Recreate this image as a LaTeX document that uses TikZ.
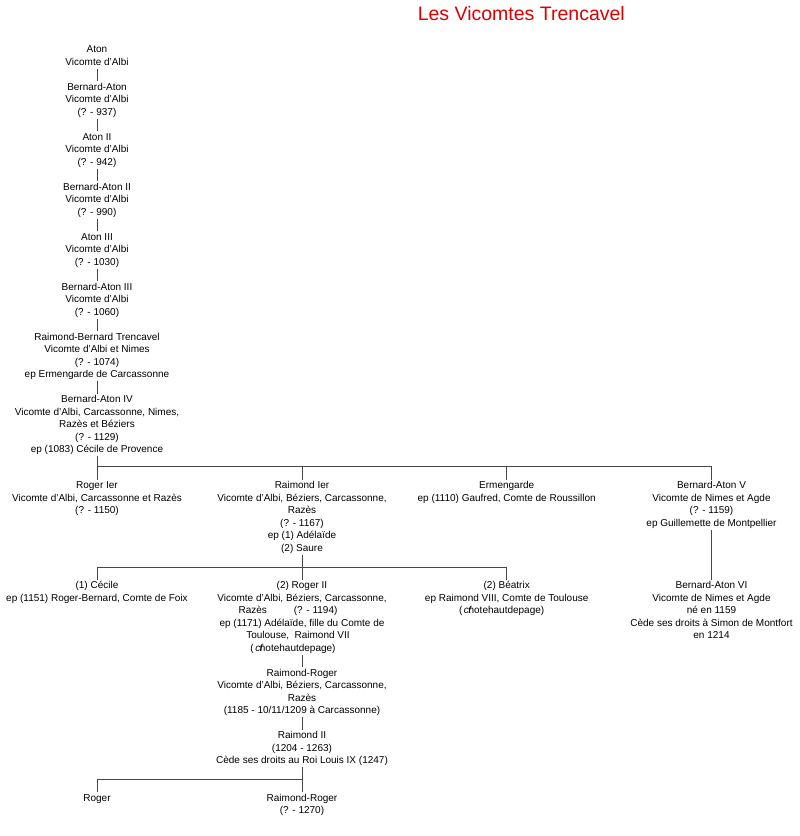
\documentclass[tikz,border=0pt]{standalone}
\usepackage{fontspec}
\setmainfont{Liberation Sans}
\definecolor{titlered}{RGB}{222,0,0}
\definecolor{linegray}{RGB}{70,70,70}
\newcommand{\ppl}[1]{\begin{tabular}[t]{@{}c@{}}#1\end{tabular}}
\newcommand{\cfnote}{(\hspace{1.5pt}\textit{c}\hspace{-0.5pt}\textit{f}\hspace{-3.5pt}notehautdepage)}
\begin{document}
\begin{tikzpicture}[x=1pt,y=-1pt,
  pers/.style={anchor=base, inner sep=0pt, outer sep=0pt, font=\fontsize{10}{12.5}\selectfont},
  link/.style={draw=linegray, line width=1pt}]
\useasboundingbox[fill=white] (0,0) rectangle (800,836);
\node[anchor=base, inner sep=0pt, text=titlered, font=\fontsize{19.5}{23}\selectfont] (title) at (521.3,20.5) {Les Vicomtes Trencavel};

% chain
\node[pers] (aton) at (97,52.7) {\ppl{Aton\\Vicomte d'Albi}};
\node[pers] (ba1) at (97,90.2) {\ppl{Bernard-Aton\\Vicomte d'Albi\\(? - 937)}};
\node[pers] (a2) at (97,140.2) {\ppl{Aton II\\Vicomte d'Albi\\(? - 942)}};
\node[pers] (ba2) at (97,190.2) {\ppl{Bernard-Aton II\\Vicomte d'Albi\\(? - 990)}};
\node[pers] (a3) at (97,240.2) {\ppl{Aton III\\Vicomte d'Albi\\(? - 1030)}};
\node[pers] (ba3) at (97,290.2) {\ppl{Bernard-Aton III\\Vicomte d'Albi\\(? - 1060)}};
\node[pers] (rbt) at (97,340.2) {\ppl{Raimond-Bernard Trencavel\\Vicomte d'Albi et Nimes\\(? - 1074)\\ep Ermengarde de Carcassonne}};
\node[pers] (ba4) at (97,402.7) {\ppl{Bernard-Aton IV\\Vicomte d'Albi, Carcassonne, Nimes,\\Razès et Béziers\\(? - 1129)\\ep (1083) Cécile de Provence}};

% row 2
\node[pers] (rog1) at (97,488.7) {\ppl{Roger Ier\\Vicomte d'Albi, Carcassonne et Razès\\(? - 1150)}};
\node[pers] (ram1) at (302,488.7) {\ppl{Raimond Ier\\Vicomte d'Albi, Béziers, Carcassonne,\\Razès\\(? - 1167)\\ep (1) Adélaïde\\(2) Saure}};
\node[pers] (erm) at (506.7,488.7) {\ppl{Ermengarde\\ep (1110) Gaufred, Comte de Roussillon}};
\node[pers] (ba5) at (711.5,488.7) {\ppl{Bernard-Aton V\\Vicomte de Nimes et Agde\\(? - 1159)\\ep Guillemette de Montpellier}};

% row 3
\node[pers] (cec) at (97,588.7) {\ppl{(1) Cécile\\ep (1151) Roger-Bernard, Comte de Foix}};
\node[pers] (rog2) at (302,588.7) {\ppl{(2) Roger II\\Vicomte d'Albi, Béziers, Carcassonne,\\Razès\hspace{27pt}(? - 1194)\hspace*{28pt}\\ep (1171) Adélaïde, fille du Comte de\\Toulouse,\ \ Raimond VII\hspace*{8pt}\\\cfnote\hspace*{18pt}}};
\node[pers] (bea) at (506.7,588.7) {\ppl{(2) Béatrix\\ep Raimond VIII, Comte de Toulouse\\\cfnote\hspace*{10pt}}};
\node[pers] (ba6) at (711.5,588.7) {\ppl{Bernard-Aton VI\\Vicomte de Nimes et Agde\\né en 1159\\Cède ses droits à Simon de Montfort\\en 1214}};

% rows 4-6
\node[pers] (rr1) at (302,676.2) {\ppl{Raimond-Roger\\Vicomte d'Albi, Béziers, Carcassonne,\\Razès\\(1185 - 10/11/1209 à Carcassonne)}};
\node[pers] (r2) at (302,738.7) {\ppl{Raimond II\\(1204 - 1263)\\Cède ses droits au Roi Louis IX (1247)}};
\node[pers] (rog) at (97,801.2) {\ppl{Roger}};
\node[pers] (rr2) at (302,801.2) {\ppl{Raimond-Roger\\(? - 1270)}};

\coordinate (bar1) at (0,466.7);
\coordinate (bar2) at (0,567.5);
\coordinate (bar3) at (0,779.2);

% connectors
\draw[link] (aton.south) -- (ba1.north);
\draw[link] (ba1.south) -- (a2.north);
\draw[link] (a2.south) -- (ba2.north);
\draw[link] (ba2.south) -- (a3.north);
\draw[link] (a3.south) -- (ba3.north);
\draw[link] (ba3.south) -- (rbt.north);
\draw[link] (rbt.south) -- (ba4.north);
\draw[link] (ba4.south) -- (rog1.north);
\draw[link] (rog1.north |- bar1) -| (ram1.north);
\draw[link] (ram1.north |- bar1) -| (erm.north);
\draw[link] (erm.north |- bar1) -| (ba5.north);
\draw[link] (ram1.south) -- (rog2.north);
\draw[link] (cec.north) -- (cec.north |- bar2) -| (rog2.north);
\draw[link] (rog2.north |- bar2) -| (bea.north);
\draw[link] (ba5.south) -- (ba6.north);
\draw[link] (rog2.south) -- (rr1.north);
\draw[link] (rr1.south) -- (r2.north);
\draw[link] (r2.south) -- (rr2.north);
\draw[link] (rr2.north |- bar3) -| (rog.north);
\end{tikzpicture}
\end{document}
